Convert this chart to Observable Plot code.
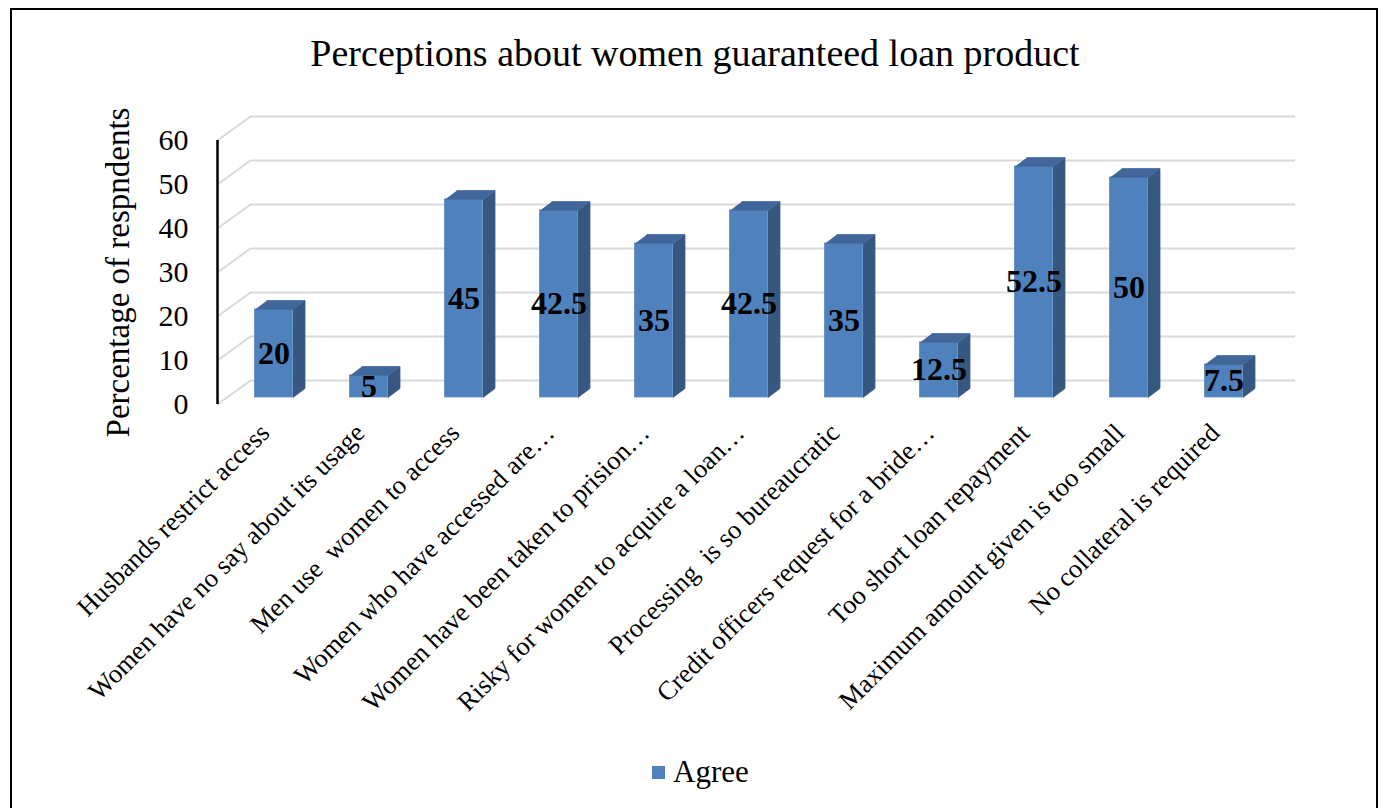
<!DOCTYPE html>
<html>
<head>
<meta charset="utf-8">
<script src="https://cdn.jsdelivr.net/npm/d3@7"></script>
<script src="https://cdn.jsdelivr.net/npm/@observablehq/plot@0.6"></script>
<style>
  html, body { margin: 0; padding: 0; background: #fff; }
  #wrap { position: relative; width: 1386px; height: 808px; overflow: hidden; font-family: "Liberation Serif", "Times New Roman", serif; }
  #frame { position: absolute; left: 10px; top: 8px; width: 1368px; height: 820px; border: 2px solid #000; box-sizing: border-box; }
  #title { position: absolute; left: 10px; width: 1370px; top: 28px; text-align: center; font-size: 38px; line-height: 50px; color: #000; }
  #chart { position: absolute; left: 0; top: 100px; }
  #chart svg text { white-space: pre; font-family: "Liberation Serif", "Times New Roman", serif !important; }
  #legend { position: absolute; left: 652px; top: 752px; height: 40px; display: flex; align-items: center; font-size: 31px; color: #000; }
  #legend .sw { width: 13px; height: 13px; background: #4F81BD; margin-right: 8px; }
</style>
</head>
<body>
<div id="wrap">
  <div id="frame"></div>
  <div id="title">Perceptions about women guaranteed loan product</div>
  <div id="chart"></div>
  <div id="legend"><div class="sw"></div><span id="legname"></span></div>
</div>
<script>
const categories = [
  "Husbands restrict access",
  "Women have no say about its usage",
  "Men use  women to access",
  "Women who have accessed are…",
  "Women have been taken to prision…",
  "Risky for women to acquire a loan…",
  "Processing  is so bureaucratic",
  "Credit officers request for a bride…",
  "Too short loan repayment",
  "Maximum amount given is too small",
  "No collateral is required"
];
const values = [20, 5, 45, 42.5, 35, 42.5, 35, 12.5, 52.5, 50, 7.5];
const yTicks = [0, 10, 20, 30, 40, 50, 60];
const seriesName = "Agree";
const titleText = "Perceptions about women guaranteed loan product";
const yTitle = "Percentage of respndents";

document.getElementById("title").textContent = titleText;
document.getElementById("legname").textContent = seriesName;

// scale setup
const xDomain = [-0.5, categories.length - 0.5];
const xRange = [217, 1262];
const yDomain = [0, 60];
const yRange = [304, 40];
const ux = (xDomain[1] - xDomain[0]) / (xRange[1] - xRange[0]); // data per px
const uy = (yDomain[1] - yDomain[0]) / (yRange[0] - yRange[1]);

const half = 0.2;            // half bar width (x units)
const depthX = 12 * ux;      // bar depth in x units
const depthY = 9 * uy;       // bar depth in y units
const barDx = 9, barDy = -7; // bar placement within the 3D floor
const wallDx = 33, wallDy = -24;

const bars = values.map((v, i) => ({i, v, cat: categories[i]}));
const sides = bars.flatMap(b => [
  {id: b.i, x: b.i + half, y: 0},
  {id: b.i, x: b.i + half + depthX, y: depthY},
  {id: b.i, x: b.i + half + depthX, y: b.v + depthY},
  {id: b.i, x: b.i + half, y: b.v}
]);
const tops = bars.flatMap(b => [
  {id: b.i, x: b.i - half, y: b.v},
  {id: b.i, x: b.i + half, y: b.v},
  {id: b.i, x: b.i + half + depthX, y: b.v + depthY},
  {id: b.i, x: b.i - half + depthX, y: b.v + depthY}
]);

const font = "Liberation Serif";
const chart = Plot.plot({
  width: 1386,
  height: 620,
  style: {fontFamily: font, background: "transparent", overflow: "visible"},
  x: {type: "linear", domain: xDomain, range: xRange, axis: null},
  y: {domain: yDomain, range: yRange, axis: null},
  marks: [
    // back wall gridlines
    Plot.ruleY(yTicks, {x1: xDomain[0], x2: xDomain[1], dx: wallDx, dy: wallDy, stroke: "#d9d9d9", strokeWidth: 2}),
    // side wall diagonals
    Plot.link(yTicks, {x1: xDomain[0], y1: d => d, x2: xDomain[0] + wallDx * ux, y2: d => d - wallDy * uy, stroke: "#d9d9d9", strokeWidth: 2}),
    // bars: front, side, top
    Plot.rect(bars, {x1: d => d.i - half, x2: d => d.i + half, y1: 0, y2: "v", dx: barDx, dy: barDy, fill: "#4F81BD", stroke: "#5B8BC6", strokeWidth: 0.8}),
    Plot.line(sides, {x: "x", y: "y", z: "id", dx: barDx, dy: barDy, fill: "#36577F", stroke: "#3A5E8A", strokeWidth: 0.8}),
    Plot.line(tops, {x: "x", y: "y", z: "id", dx: barDx, dy: barDy, fill: "#40669A", stroke: "#4670A5", strokeWidth: 0.8}),
    // data labels
    Plot.text(bars, {x: "i", y: d => d.v / 2, text: d => String(d.v), dx: barDx, dy: barDy, fontSize: 32, fontWeight: "bold", fill: "#000", fontFamily: font}),
    // y axis line
    Plot.ruleX([xDomain[0]], {y1: yDomain[0], y2: yDomain[1], stroke: "#000", strokeWidth: 2.5}),
    // y tick labels
    Plot.text(yTicks, {x: xDomain[0], y: d => d, text: d => String(d), textAnchor: "end", dx: -29, fontSize: 30, fill: "#000", fontFamily: font}),
    // y axis title
    Plot.text([yTitle], {x: xDomain[0], y: (yDomain[0] + yDomain[1]) / 2, text: d => d, rotate: -90, dx: -99, fontSize: 33, fill: "#000", fontFamily: font}),
    // x tick labels
    Plot.text(bars, {x: "i", y: 0, text: "cat", rotate: -45, textAnchor: "end", dy: 24, fontSize: 26.5, fill: "#000", fontFamily: font})
  ]
});
document.getElementById("chart").appendChild(chart);
</script>
</body>
</html>
